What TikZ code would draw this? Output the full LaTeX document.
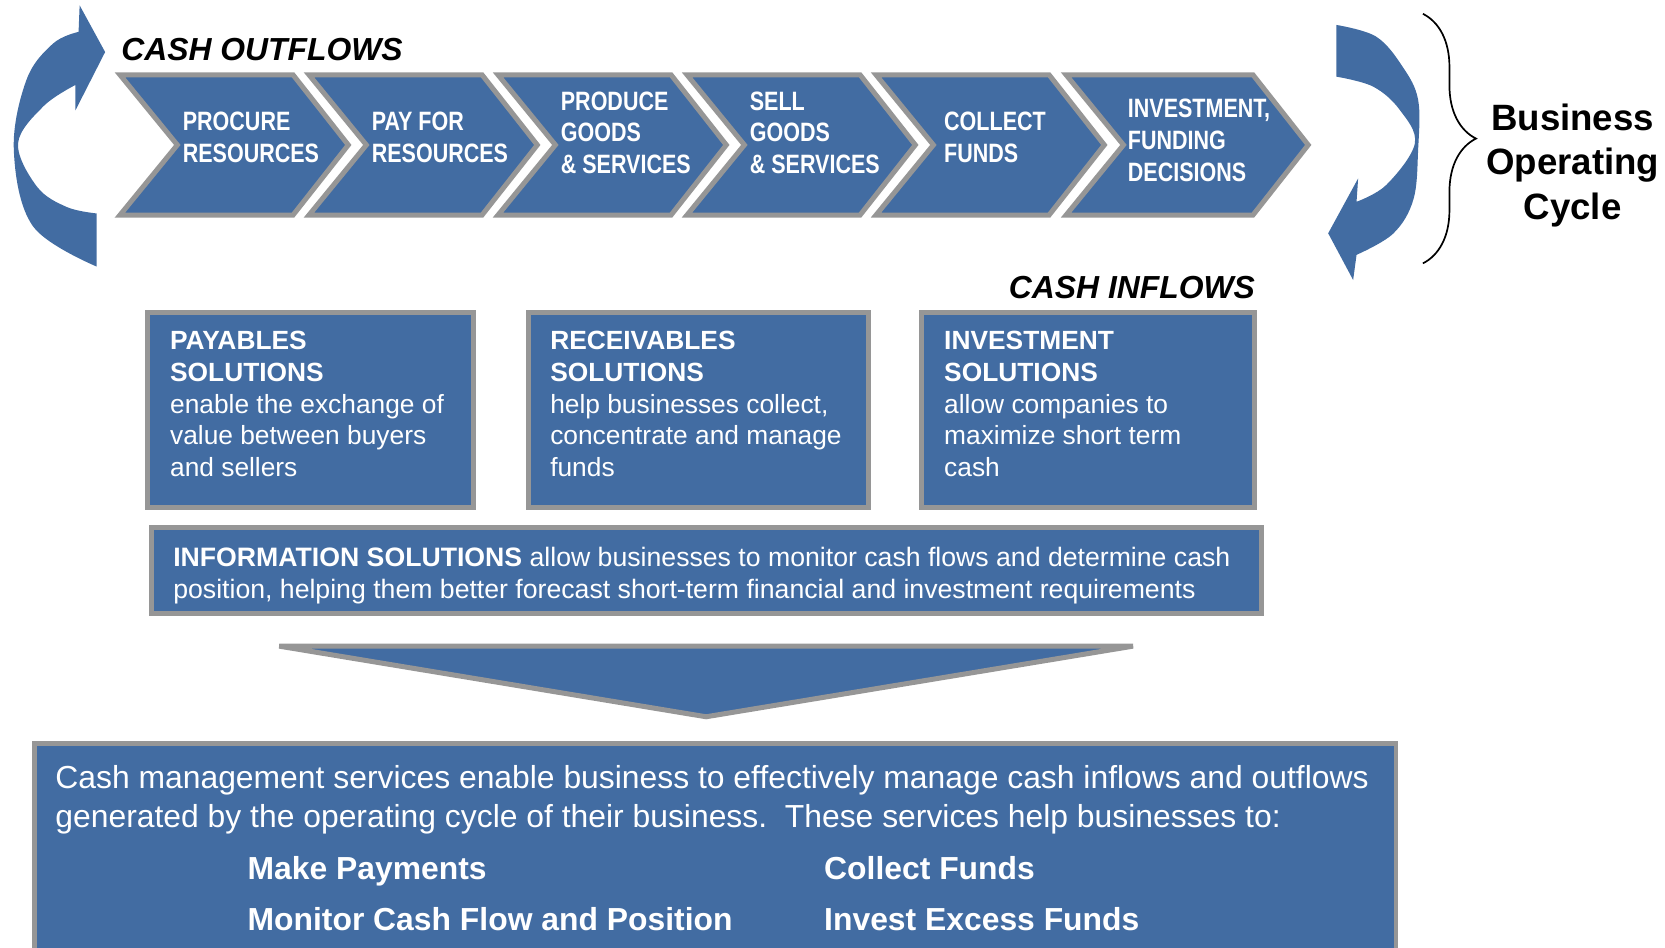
\documentclass[tikz,border=0pt]{standalone}
\usepackage{fontspec}
\setmainfont{Liberation Sans}
\newfontfamily\narrowfont[FakeStretch=0.81]{Liberation Sans}
\usetikzlibrary{decorations.pathreplacing}
\definecolor{cmblue}{RGB}{66,108,162}
\definecolor{cmgray}{RGB}{150,150,150}
\tikzset{
    every node/.style={inner sep=0pt, text=white},
    chevfill/.style={fill=cmblue, draw=cmgray, line width=4.7pt},
    pics/chevron/.style={code={
        \draw[chevfill] (0,0) -- ++(#1,0) -- ++(52,66) -- ++(-52,66) -- ++(-#1,0) -- ++(54,-66) -- cycle;
    }},
    chevtext/.style={anchor=west, align=left, font=\narrowfont\bfseries\fontsize{25}{30}\selectfont},
    flowlabel/.style={text=black, font=\bfseries\itshape\fontsize{30}{35}\selectfont},
    solbox/.style={draw=cmgray, fill=cmblue, line width=4.7pt},
    soltext/.style={anchor=north west, align=left, font=\fontsize{24.8}{29.8}\selectfont},
    cmstext/.style={anchor=north west, align=left, font=\fontsize{30}{36}\selectfont},
    itemtext/.style={anchor=base west, font=\bfseries\fontsize{30}{36}\selectfont}
}

\begin{document}
\begin{tikzpicture}[x=1pt, y=-1pt]
    \useasboundingbox (0,0) rectangle (1568,892);

    % operating cycle
    \pic at (113,70.5) {chevron=163};
    \pic at (291,70.5) {chevron=163};
    \pic at (469,70.5) {chevron=163};
    \pic at (647,70.5) {chevron=163};
    \pic at (825,70.5) {chevron=163};
    \pic at (1004,70.5) {chevron=176};
    \node[chevtext] (procure) at (172,129) {PROCURE\\RESOURCES};
    \node[chevtext] (payfor) at (350,129) {PAY FOR\\RESOURCES};
    \node[chevtext] (produce) at (528,125) {PRODUCE\\GOODS\\\& SERVICES};
    \node[chevtext] (sell) at (706,125) {SELL\\GOODS\\\& SERVICES};
    \node[chevtext] (collect) at (889,129) {COLLECT\\FUNDS};
    \node[chevtext] (decide) at (1062,132.5) {INVESTMENT,\\FUNDING\\DECISIONS};

    \node[flowlabel, anchor=base west] (outflows) at (114,57) {CASH OUTFLOWS};
    \node[flowlabel, anchor=base east] (inflows) at (1182,281.5) {CASH INFLOWS};

    % round arrows
    \fill[cmblue] (91,201) -- (91,251)
        -- plot[smooth, tension=0.6] coordinates {(91,251) (31,213) (13,141) (25,75) (50,41) (74,30)}
        -- (75,5) -- (99,49) -- (71,104) -- (71,80)
        -- plot[smooth, tension=0.6] coordinates {(71,80) (41,100) (17,135) (35,176) (63,195) (91,201)}
        -- cycle;
    \fill[cmblue] (1258.6,72.2) -- (1258.6,23.5)
        -- plot[smooth, tension=0.6] coordinates {(1258.6,23.5) (1296,34.5) (1321,63) (1335.5,94) (1335.5,141) (1331,188) (1312,220) (1277.5,240)}
        -- (1274.3,263.7) -- (1250.8,219.7) -- (1279,168) -- (1277.5,190)
        -- plot[smooth, tension=0.6] coordinates {(1277.5,190) (1305.7,174) (1332.4,135) (1318.3,103.6) (1293.2,81.6) (1258.6,72.2)}
        -- cycle;

    \coordinate (bracetop) at (1340,13);
    \coordinate (bracebot) at (1340,248);
    \draw[decorate, decoration={brace, amplitude=50pt}, line width=1.6pt] (bracetop) -- (bracebot);
    \node[align=center, text=black, font=\bfseries\fontsize{34.5}{42}\selectfont] (cycle) at (1481,155.6) {Business\\Operating\\Cycle};

    % solutions
    \node[solbox, minimum width=306.3pt, minimum height=183.3pt] (payables) at (292.5,386) {};
    \node[solbox, minimum width=320.3pt, minimum height=183.3pt] (receivables) at (657.5,386) {};
    \node[solbox, minimum width=314.3pt, minimum height=183.3pt] (investment) at (1024.5,386) {};
    \node[soltext] (payablestext) at (160,312) {\textbf{PAYABLES}\\\textbf{SOLUTIONS}\\enable the exchange of\\value between buyers\\and sellers};
    \node[soltext] (receivablestext) at (518,312) {\textbf{RECEIVABLES}\\\textbf{SOLUTIONS}\\help businesses collect,\\concentrate and manage\\funds};
    \node[soltext] (investmenttext) at (889,312) {\textbf{INVESTMENT}\\\textbf{SOLUTIONS}\\allow companies to\\maximize short term\\cash};

    \node[solbox, minimum width=1045.3pt, minimum height=81.3pt] (information) at (665,537) {};
    \node[soltext, font=\fontsize{25.1}{30}\selectfont] (informationtext) at (163,515) {\textbf{INFORMATION SOLUTIONS} allow businesses to monitor cash flows and determine cash\\position, helping them better forecast short-term financial and investment requirements};

    \draw[chevfill] (263,608.5) -- (1067,608.5) -- (665,675) -- cycle;

    % services
    \node[solbox, minimum width=1282.3pt, minimum height=249.65pt] (services) at (673.5,825.2) {};
    \node[cmstext] (servicestext) at (52,721) {Cash management services enable business to effectively manage cash inflows and outflows\\generated by the operating cycle of their business.\ \ These services help businesses to:};
    \node[itemtext] (payments) at (233,828) {Make Payments};
    \node[itemtext] (funds) at (776,828) {Collect Funds};
    \node[itemtext] (position) at (233,876) {Monitor Cash Flow and Position};
    \node[itemtext] (excess) at (776,876) {Invest Excess Funds};
\end{tikzpicture}
\end{document}
